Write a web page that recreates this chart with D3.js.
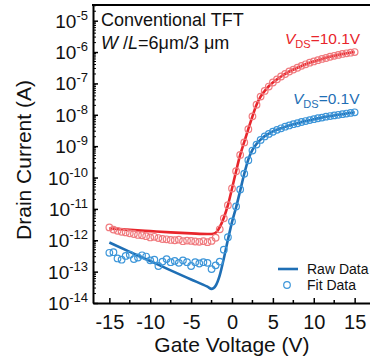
<!DOCTYPE html>
<html>
<head>
<meta charset="utf-8">
<script src="https://cdn.jsdelivr.net/npm/d3@7"></script>
<style>
  body { margin: 0; background: #fff; }
  text { font-family: "Liberation Sans", Arial, sans-serif; fill: #111; }
</style>
</head>
<body>
<svg id="chart" width="370" height="363"></svg>
<script>
// gate voltage grid for the solid curves (V)
var lineVg = [-15, -12.5, -10, -7.5, -5, -3, -2.5, -2, -1.5, -1, -0.5, 0, 0.5, 1, 1.5, 2, 2.5,
  3, 3.5, 4, 4.5, 5, 6, 7, 8, 9, 10, 11, 12, 13, 14, 15];
// log10 of drain current, solid curves
var lineHigh = [-11.62, -11.67, -11.71, -11.75, -11.78, -11.80, -11.80, -11.76, -11.58, -11.28, -10.88, -10.35,
  -9.80, -9.28, -8.86, -8.45, -8.05, -7.68, -7.42, -7.24, -7.09, -6.97, -6.78, -6.62, -6.50, -6.39, -6.30,
  -6.22, -6.15, -6.09, -6.04, -6.00];
var lineLow = [-12.07, -12.37, -12.66, -12.96, -13.25, -13.48, -13.55, -13.45, -13.12, -12.58, -11.98, -11.42,
  -10.95, -10.42, -9.88, -9.42, -9.12, -8.93, -8.79, -8.68, -8.60, -8.53, -8.43, -8.34, -8.27, -8.20, -8.14,
  -8.09, -8.04, -8.00, -7.96, -7.92];

// gate voltage grid for the circle markers: -15 .. 15 every 0.5 V
var dotVg = d3.range(-15, 15.01, 0.5);
var dotHigh = [-11.59, -11.66, -11.70, -11.73, -11.75, -11.78, -11.80, -11.83, -11.84, -11.87, -11.91,
  -11.89, -11.93, -11.96, -11.97, -11.99, -12.00, -11.98, -12.03, -12.01, -12.02, -12.04, -12.05, -12.03,
  -12.06, -12.02, -11.92, -11.65, -11.30, -10.88, -10.35, -9.80, -9.28, -8.88, -8.46, -8.05, -7.68, -7.42,
  -7.24, -7.10, -6.97, -6.87, -6.78, -6.70, -6.62, -6.56, -6.50, -6.44, -6.39, -6.34, -6.30, -6.26, -6.22,
  -6.19, -6.15, -6.12, -6.09, -6.06, -6.04, -6.02, -6.00];
var dotLow = [-12.40, -12.38, -12.58, -12.62, -12.50, -12.46, -12.60, -12.55, -12.48, -12.52, -12.64,
  -12.62, -12.82, -12.68, -12.60, -12.70, -12.66, -12.72, -12.64, -12.70, -12.82, -12.70, -12.74, -12.70,
  -12.72, -12.92, -12.80, -12.68, -12.30, -11.90, -11.40, -10.92, -10.38, -9.88, -9.45, -9.14, -8.95,
  -8.80, -8.69, -8.61, -8.54, -8.48, -8.43, -8.38, -8.34, -8.30, -8.27, -8.23, -8.20, -8.17, -8.14, -8.11,
  -8.09, -8.06, -8.04, -8.02, -8.00, -7.98, -7.96, -7.94, -7.92];

var xTicks = [-15, -10, -5, 0, 5, 10, 15];
var xMinor = [-12.5, -7.5, -2.5, 2.5, 7.5, 12.5];
var yDecades = [-14, -13, -12, -11, -10, -9, -8, -7, -6, -5];

var red = '#e8252b', redDot = '#f07b7f',
    blue = '#1f6fb5', blueDot = '#3d96d9';

var svg = d3.select('#chart');
var m = {left: 93, top: 5, right: 371, bottom: 303};

var x = d3.scaleLinear().domain([-17, 17]).range([m.left, m.right]);
var y = d3.scaleLog().domain([1e-14, Math.pow(10, -4.5)]).range([m.bottom, m.top]);

function pts(xs, ys) {
  return xs.map(function (v, i) { return {x: v, y: Math.pow(10, ys[i])}; });
}

var line = d3.line()
  .x(function (d) { return x(d.x); })
  .y(function (d) { return y(d.y); })
  .curve(d3.curveMonotoneX);

var plot = svg.append('g');

// solid curves
[[lineHigh, red], [lineLow, blue]].forEach(function (s) {
  plot.append('path')
    .attr('d', line(pts(lineVg, s[0])))
    .attr('fill', 'none')
    .attr('stroke', s[1])
    .attr('stroke-width', 2.6);
});

// circle markers
[[dotHigh, redDot], [dotLow, blueDot]].forEach(function (s) {
  plot.append('g').selectAll('circle')
    .data(pts(dotVg, s[0]))
    .enter().append('circle')
    .attr('cx', function (d) { return x(d.x); })
    .attr('cy', function (d) { return y(d.y); })
    .attr('r', 3.3)
    .attr('fill', 'none')
    .attr('stroke', s[1])
    .attr('stroke-width', 1.2);
});

// axes, ticks pointing inward
var xAxis = svg.append('g')
  .attr('transform', 'translate(0,' + m.bottom + ')')
  .call(d3.axisBottom(x).tickValues(xTicks).tickSizeInner(-5).tickSizeOuter(0).tickPadding(12)
    .tickFormat(function (d) { return d < 0 ? '-' + Math.abs(d) : d; }));
xAxis.select('.domain').attr('stroke-width', 2);
xAxis.selectAll('.tick line').attr('stroke-width', 1.5);
xAxis.selectAll('.tick text').attr('font-size', 20).attr('fill', '#111');
xAxis.selectAll('.minor').data(xMinor).enter().append('line')
  .attr('x1', function (d) { return x(d); }).attr('x2', function (d) { return x(d); })
  .attr('y1', 0).attr('y2', -3)
  .attr('stroke', '#000').attr('stroke-width', 1.5);

var yMinor = [];
yDecades.forEach(function (e) {
  for (var k = 2; k <= 9; k++) {
    var v = k * Math.pow(10, e);
    if (v <= y.domain()[1]) yMinor.push(v);
  }
});

var yAxis = svg.append('g')
  .attr('transform', 'translate(' + m.left + ',0)')
  .call(d3.axisLeft(y).tickValues(yDecades.map(function (e) { return Math.pow(10, e); }))
    .tickSizeInner(-5).tickSizeOuter(0).tickFormat(''));
yAxis.select('.domain').attr('stroke-width', 2);
yAxis.selectAll('.tick line').attr('stroke-width', 1.5);
yAxis.selectAll('.minor').data(yMinor).enter().append('line')
  .attr('y1', function (d) { return y(d); }).attr('y2', function (d) { return y(d); })
  .attr('x1', 0).attr('x2', 3)
  .attr('stroke', '#000').attr('stroke-width', 1);

// decade labels 10^n
yDecades.forEach(function (e) {
  var t = svg.append('text')
    .attr('x', m.left - 5)
    .attr('y', y(Math.pow(10, e)) + 7)
    .attr('text-anchor', 'end')
    .attr('font-size', 19);
  t.append('tspan').text('10');
  t.append('tspan').attr('font-size', 13).attr('dy', -8).text('-' + Math.abs(e));
});

// top frame
svg.append('line')
  .attr('x1', m.left - 1).attr('x2', m.right)
  .attr('y1', m.top).attr('y2', m.top)
  .attr('stroke', '#000').attr('stroke-width', 2);

// axis titles
svg.append('text')
  .attr('x', (m.left + 355) / 2 + 8).attr('y', 352)
  .attr('text-anchor', 'middle').attr('font-size', 21)
  .text('Gate Voltage (V)');
svg.append('text')
  .attr('transform', 'translate(31,' + ((m.top + m.bottom) / 2 + 6) + ') rotate(-90)')
  .attr('text-anchor', 'middle').attr('font-size', 21)
  .text('Drain Current (A)');

// annotations
svg.append('text').attr('x', 101).attr('y', 26).attr('font-size', 18).text('Conventional TFT');
var wl = svg.append('text').attr('x', 101).attr('y', 49).attr('font-size', 18);
wl.append('tspan').attr('font-style', 'italic').text('W');
wl.append('tspan').text(' /');
wl.append('tspan').attr('font-style', 'italic').text('L');
wl.append('tspan').text('=6μm/3 μm');

function vds(xp, yp, val, col) {
  var t = svg.append('text').attr('x', xp).attr('y', yp).attr('font-size', 15.5).style('fill', col);
  t.append('tspan').attr('font-style', 'italic').style('fill', col).text('V');
  t.append('tspan').attr('font-size', 11).attr('dy', 3.5).style('fill', col).text('DS');
  t.append('tspan').attr('dy', -3.5).style('fill', col).text('=' + val);
}
vds(285, 44, '10.1V', red);
vds(293, 104, '0.1V', blue);

// legend
svg.append('line').attr('x1', 278).attr('x2', 298).attr('y1', 269).attr('y2', 269)
  .attr('stroke', blue).attr('stroke-width', 2.6);
svg.append('circle').attr('cx', 287).attr('cy', 285).attr('r', 3.3)
  .attr('fill', 'none').attr('stroke', blueDot).attr('stroke-width', 1.2);
svg.append('text').attr('x', 307).attr('y', 274).attr('font-size', 14).text('Raw Data');
svg.append('text').attr('x', 307).attr('y', 290).attr('font-size', 14).text('Fit Data');
</script>
</body>
</html>
